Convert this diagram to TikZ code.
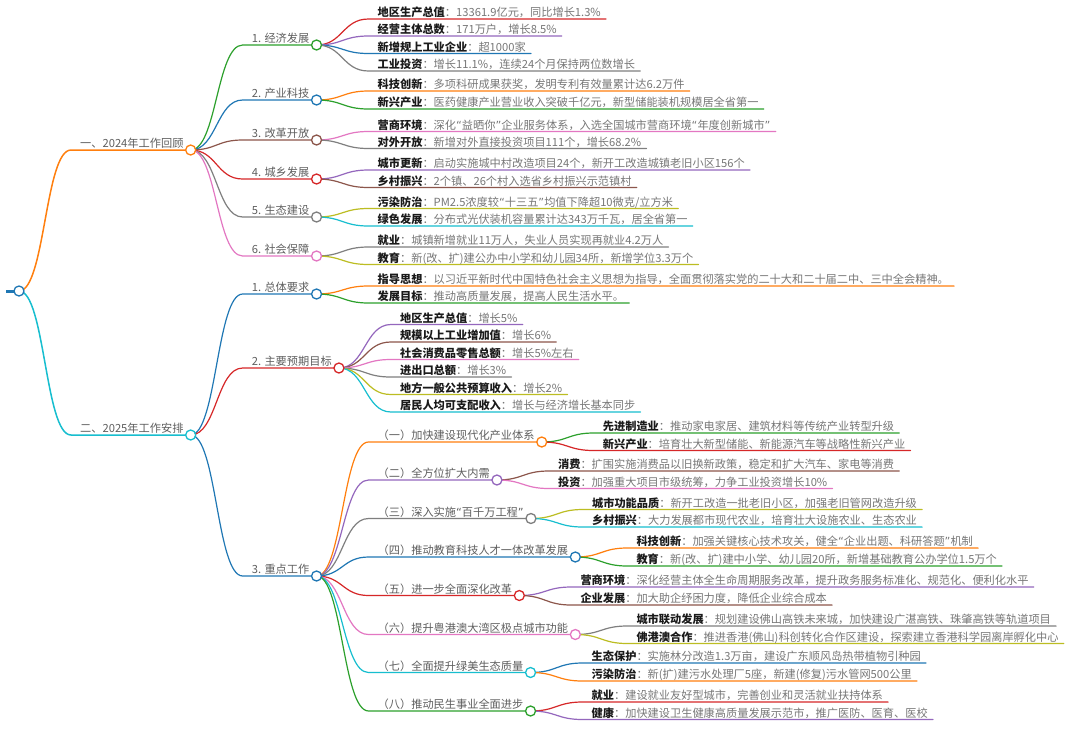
\documentclass[tikz,border=0pt]{standalone}
\usepackage{fontspec}
\setmainfont{Noto Sans CJK SC}
\newfontfamily\qfont{DejaVu Sans}
\newcommand\oq{{\qfont “}}
\newcommand\cq{{\qfont ”}}
\usetikzlibrary{calc}
\pgfdeclarelayer{bg}
\pgfsetlayers{bg,main}
\definecolor{cb}{HTML}{1F77B4}
\definecolor{co}{HTML}{FF7F0E}
\definecolor{cg}{HTML}{2CA02C}
\definecolor{cr}{HTML}{D62728}
\definecolor{cp}{HTML}{9467BD}
\definecolor{cbr}{HTML}{8C564B}
\definecolor{cpk}{HTML}{E377C2}
\definecolor{cgy}{HTML}{7F7F7F}
\definecolor{col}{HTML}{BCBD22}
\definecolor{cc}{HTML}{17BECF}
\definecolor{lgrey}{HTML}{5F5F5F}
\definecolor{dgrey}{HTML}{777777}
\definecolor{kblack}{HTML}{1A1A1A}
\tikzset{
  lbl/.style={inner sep=0pt, font=\fontsize{11.2}{13}\selectfont, text=lgrey},
  leafst/.style={inner sep=0pt, font=\fontsize{11.2}{13}\selectfont, text=kblack},
  mmlink/.style={line width=1.2pt, line cap=round},
  circ/.style={circle, fill=white, line width=1.3pt, minimum size=10pt, inner sep=0pt},
}
% #1 id, #2 parent, #3 y of line, #4 colour, #5 text, #6 line width
\newcommand\mmnode[6]{%
  \path let \p1=(#2) in (\x1+52pt,-#3pt) coordinate (#1s);
  \node[lbl, anchor=base west] (#1t) at ($(#1s)+(9,-2.5)$) {#5};
  \node[circ, draw=#4] (#1) at ($(#1t.base east)+(7,2.5)$) {};
  \begin{pgfonlayer}{bg}
  \draw[mmlink, #4, line width=#6] let \p1=(#2), \p2=(#1s) in (\p1) .. controls ({(\x1+\x2)/2},\y1) and ({(\x1+\x2)/2},\y2) .. (\p2) -- (#1.center);
  \end{pgfonlayer}
}
% #1 id, #2 parent, #3 y of line, #4 colour, #5 key, #6 description
\newcommand\mmleaf[6]{%
  \path let \p1=(#2) in (\x1+52pt,-#3pt) coordinate (#1s);
  \node[leafst, anchor=base west] (#1t) at ($(#1s)+(9,-2.5)$) {\textbf{#5}\textcolor{dgrey}{：#6}};
  \coordinate (#1e) at ($(#1t.base east)+(5,2.5)$);
  \begin{pgfonlayer}{bg}
  \draw[mmlink, #4] let \p1=(#2), \p2=(#1s) in (\p1) .. controls ({(\x1+\x2)/2},\y1) and ({(\x1+\x2)/2},\y2) .. (\p2) -- (#1e);
  \end{pgfonlayer}
}
\begin{document}
\begin{tikzpicture}[x=1pt,y=-1pt]
\useasboundingbox (0,0) rectangle (1080,732);
\begin{pgfonlayer}{bg}\fill[white] (0,0) rectangle (1080,732);\end{pgfonlayer}
\node[circ, draw=cb] (root) at (19,291) {};
\coordinate (rootl) at (6,291);
\begin{pgfonlayer}{bg}\draw[cb, line width=3pt] (rootl) -- (root.center);\end{pgfonlayer}
% level 1
\mmnode{a}{root}{150}{co}{一、2024年工作回顾}{1.5pt}
\mmnode{b}{root}{435}{cc}{二、2025年工作安排}{1.5pt}
% level 2 under a
\mmnode{a1}{a}{45}{cg}{1. 经济发展}{1.2pt}
\mmnode{a2}{a}{100}{cb}{2. 产业科技}{1.2pt}
\mmnode{a3}{a}{140}{cbr}{3. 改革开放}{1.2pt}
\mmnode{a4}{a}{179}{cr}{4. 城乡发展}{1.2pt}
\mmnode{a5}{a}{217}{cgy}{5. 生态建设}{1.2pt}
\mmnode{a6}{a}{256}{cpk}{6. 社会保障}{1.2pt}
% level 2 under b
\mmnode{b1}{b}{294}{cb}{1. 总体要求}{1.2pt}
\mmnode{b2}{b}{368}{cr}{2. 主要预期目标}{1.2pt}
\mmnode{b3}{b}{576}{cb}{3. 重点工作}{1.2pt}
% leaves of a
\mmleaf{l1}{a1}{19}{cr}{地区生产总值}{13361.9亿元，同比增长1.3\%}
\mmleaf{l2}{a1}{36}{cp}{经营主体总数}{171万户，增长8.5\%}
\mmleaf{l3}{a1}{53.5}{cb}{新增规上工业企业}{超1000家}
\mmleaf{l4}{a1}{71}{cgy}{工业投资}{增长11.1\%，连续24个月保持两位数增长}
\mmleaf{l5}{a2}{91}{co}{科技创新}{多项科研成果获奖，发明专利有效量累计达6.2万件}
\mmleaf{l6}{a2}{109}{cg}{新兴产业}{医药健康产业营业收入突破千亿元，新型储能装机规模居全省第一}
\mmleaf{l7}{a3}{131.5}{cpk}{营商环境}{深化\oq 益晒你\cq 企业服务体系，入选全国城市营商环境\oq 年度创新城市\cq}
\mmleaf{l8}{a3}{148.5}{cgy}{对外开放}{新增对外直接投资项目111个，增长68.2\%}
\mmleaf{l9}{a4}{170}{cp}{城市更新}{启动实施城中村改造项目24个，新开工改造城镇老旧小区156个}
\mmleaf{l10}{a4}{187.5}{cbr}{乡村振兴}{2个镇、26个村入选省乡村振兴示范镇村}
\mmleaf{l11}{a5}{208.5}{col}{污染防治}{PM2.5浓度较\oq 十三五\cq 均值下降超10微克/立方米}
\mmleaf{l12}{a5}{226}{cc}{绿色发展}{分布式光伏装机容量累计达343万千瓦，居全省第一}
\mmleaf{l13}{a6}{247}{cgy}{就业}{城镇新增就业11万人，失业人员实现再就业4.2万人}
\mmleaf{l14}{a6}{264.5}{col}{教育}{新(改、扩)建公办中小学和幼儿园34所，新增学位3.3万个}
% leaves of b1, b2
\mmleaf{l15}{b1}{286}{co}{指导思想}{以习近平新时代中国特色社会主义思想为指导，全面贯彻落实党的二十大和二十届二中、三中全会精神。}
\mmleaf{l16}{b1}{303}{cg}{发展目标}{推动高质量发展，提高人民生活水平。}
\mmleaf{l17}{b2}{324.5}{cp}{地区生产总值}{增长5\%}
\mmleaf{l18}{b2}{342}{cbr}{规模以上工业增加值}{增长6\%}
\mmleaf{l19}{b2}{359.5}{cpk}{社会消费品零售总额}{增长5\%左右}
\mmleaf{l20}{b2}{377}{cgy}{进出口总额}{增长3\%}
\mmleaf{l21}{b2}{394.5}{col}{地方一般公共预算收入}{增长2\%}
\mmleaf{l22}{b2}{412}{cc}{居民人均可支配收入}{增长与经济增长基本同步}
% children of b3
\mmnode{k1}{b3}{442}{co}{（一）加快建设现代化产业体系}{1.2pt}
\mmnode{k2}{b3}{480}{cp}{（二）全方位扩大内需}{1.2pt}
\mmnode{k3}{b3}{518.5}{cgy}{（三）深入实施\oq 百千万工程\cq}{1.2pt}
\mmnode{k4}{b3}{557}{cb}{（四）推动教育科技人才一体改革发展}{1.2pt}
\mmnode{k5}{b3}{595.5}{cr}{（五）进一步全面深化改革}{1.2pt}
\mmnode{k6}{b3}{634.5}{cpk}{（六）提升粤港澳大湾区极点城市功能}{1.2pt}
\mmnode{k7}{b3}{672.5}{cc}{（七）全面提升绿美生态质量}{1.2pt}
\mmnode{k8}{b3}{711}{cg}{（八）推动民生事业全面进步}{1.2pt}
% leaves of b3 children
\mmleaf{m1}{k1}{433}{cg}{先进制造业}{推动家电家居、建筑材料等传统产业转型升级}
\mmleaf{m2}{k1}{450.5}{cr}{新兴产业}{培育壮大新型储能、新能源汽车等战略性新兴产业}
\mmleaf{m3}{k2}{471}{cbr}{消费}{扩围实施消费品以旧换新政策，稳定和扩大汽车、家电等消费}
\mmleaf{m4}{k2}{488.5}{cpk}{投资}{加强重大项目市级统筹，力争工业投资增长10\%}
\mmleaf{m5}{k3}{509.5}{col}{城市功能品质}{新开工改造一批老旧小区，加强老旧管网改造升级}
\mmleaf{m6}{k3}{527}{cc}{乡村振兴}{大力发展都市现代农业，培育壮大设施农业、生态农业}
\mmleaf{m7}{k4}{548}{co}{科技创新}{加强关键核心技术攻关，健全\oq 企业出题、科研答题\cq 机制}
\mmleaf{m8}{k4}{566}{cg}{教育}{新(改、扩)建中小学、幼儿园20所，新增基础教育公办学位1.5万个}
\mmleaf{m9}{k5}{587}{cp}{营商环境}{深化经营主体全生命周期服务改革，提升政务服务标准化、规范化、便利化水平}
\mmleaf{m10}{k5}{605}{cbr}{企业发展}{加大助企纾困力度，降低企业综合成本}
\mmleaf{m11}{k6}{626}{cgy}{城市联动发展}{规划建设佛山高铁未来城，加快建设广湛高铁、珠肇高铁等轨道项目}
\mmleaf{m12}{k6}{643.5}{col}{佛港澳合作}{推进香港(佛山)科创转化合作区建设，探索建立香港科学园离岸孵化中心}
\mmleaf{m13}{k7}{663}{cb}{生态保护}{实施林分改造1.3万亩，建设广东顺风岛热带植物引种园}
\mmleaf{m14}{k7}{681}{co}{污染防治}{新(扩)建污水处理厂5座，新建(修复)污水管网500公里}
\mmleaf{m15}{k8}{702}{cr}{就业}{建设就业友好型城市，完善创业和灵活就业扶持体系}
\mmleaf{m16}{k8}{719.5}{cp}{健康}{加快建设卫生健康高质量发展示范市，推广医防、医育、医校}
\end{tikzpicture}
\end{document}
